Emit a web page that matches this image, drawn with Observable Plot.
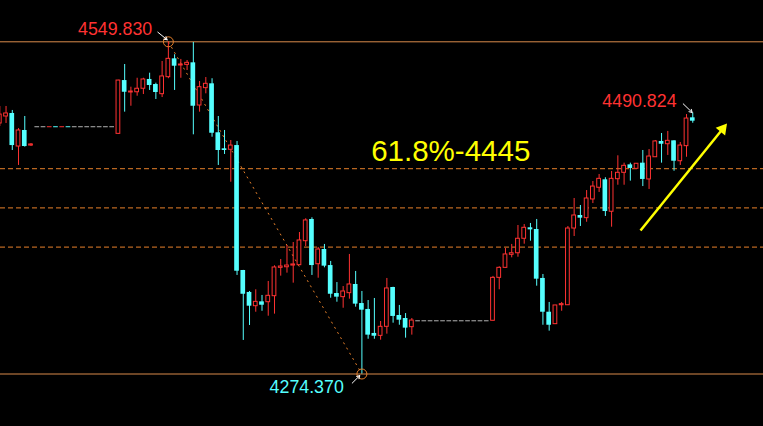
<!DOCTYPE html>
<html><head><meta charset="utf-8">
<script src="https://cdn.jsdelivr.net/npm/d3@7"></script>
<script src="https://cdn.jsdelivr.net/npm/@observablehq/plot@0.6"></script>
<style>html,body{margin:0;padding:0;background:#000;overflow:hidden}</style>
</head><body><div id="chart"></div>
<script>
// [index, open, high, low, close]
const candles = [
[0,4482.1,4496.2,4479.6,4489.5],[1,4487.9,4496.2,4482.1,4490.4],[2,4490.4,4492.9,4459.7,4463.8],
[3,4463.0,4477.9,4447.3,4476.3],[4,4476.3,4487.9,4462.5,4463.0],[5,4463.8,4465.5,4463.0,4464.7],
[19,4473.5,4517.9,4473.3,4517.7],[20,4517.7,4531.0,4491.5,4508.0],[21,4507.8,4512.2,4496.4,4508.6],
[22,4508.0,4519.6,4504.7,4510.9],[23,4510.9,4519.6,4506.1,4518.6],[24,4518.6,4523.8,4509.5,4513.6],
[25,4514.4,4515.5,4502.0,4507.8],[26,4506.4,4533.5,4503.6,4521.1],[27,4520.5,4549.83,4519.2,4535.7],
[28,4535.7,4539.1,4509.5,4529.6],[29,4530.2,4535.2,4519.6,4531.0],[30,4530.7,4534.3,4526.0,4532.4],
[31,4532.4,4549.3,4472.7,4496.4],[32,4497.0,4516.9,4491.5,4512.2],[33,4511.4,4520.2,4506.7,4515.0],
[34,4515.0,4519.2,4470.7,4474.0],[35,4474.4,4487.9,4447.3,4459.7],[36,4461.1,4476.3,4456.4,4459.7],
[37,4460.3,4468.0,4433.4,4463.8],[38,4463.8,4467.2,4356.1,4359.6],[39,4360.2,4360.3,4302.2,4340.5],
[40,4342.0,4342.8,4314.6,4330.6],[41,4330.6,4344.2,4325.6,4334.2],[42,4334.2,4339.5,4326.4,4331.4],
[43,4333.9,4351.1,4322.3,4339.2],[44,4338.9,4364.1,4324.0,4362.7],[45,4362.4,4369.3,4355.5,4363.5],
[46,4362.9,4380.9,4358.0,4364.3],[47,4364.3,4383.4,4349.7,4365.2],[48,4364.6,4391.7,4364.4,4385.1],
[49,4384.5,4403.1,4380.1,4401.7],[50,4402.5,4403.9,4356.1,4364.3],[51,4365.4,4379.3,4353.8,4377.6],
[52,4377.6,4381.8,4362.4,4363.8],[53,4364.3,4367.7,4337.2,4340.5],[54,4341.1,4350.2,4333.9,4338.1],
[55,4338.1,4346.9,4328.9,4342.8],[56,4341.4,4373.5,4336.4,4348.6],[57,4348.6,4359.4,4329.8,4332.3],
[58,4332.8,4342.8,4274.37,4327.3],[59,4327.9,4335.3,4303.2,4306.6],[60,4308.0,4337.0,4303.2,4305.7],
[61,4306.0,4317.9,4302.4,4313.5],[62,4313.5,4353.6,4307.4,4345.3],[63,4346.1,4346.3,4316.5,4322.1],
[64,4322.9,4331.2,4314.8,4319.0],[65,4320.4,4324.5,4304.1,4312.4],[66,4313.2,4320.4,4306.6,4318.7],
[79,4318.5,4355.3,4318.4,4354.1],[80,4354.1,4363.3,4344.2,4362.4],[81,4362.4,4378.4,4362.2,4373.5],
[82,4373.2,4381.8,4370.7,4374.5],[83,4374.5,4397.5,4371.2,4386.5],[84,4386.5,4398.3,4382.0,4395.6],
[85,4395.6,4399.2,4384.5,4393.9],[86,4394.2,4402.5,4347.2,4353.0],[87,4353.6,4356.9,4314.8,4325.6],
[88,4325.6,4333.7,4309.9,4314.8],[89,4315.7,4331.3,4315.5,4331.2],[90,4331.4,4333.7,4326.4,4332.3],
[91,4331.4,4396.7,4331.2,4395.0],[92,4395.0,4419.9,4388.4,4405.8],[93,4405.8,4414.1,4396.7,4403.6],
[94,4403.6,4426.5,4400.2,4419.9],[95,4419.1,4434.0,4415.7,4429.8],[96,4428.8,4439.8,4424.9,4436.2],
[97,4435.4,4437.1,4405.0,4409.1],[98,4408.9,4442.3,4396.1,4436.2],[99,4435.9,4455.3,4430.9,4441.2],
[100,4441.2,4449.2,4430.9,4447.0],[101,4447.8,4449.2,4434.3,4444.8],[102,4444.5,4448.8,4444.4,4448.7],
[103,4449.2,4459.7,4429.8,4435.7],[104,4435.7,4460.5,4427.4,4454.7],[105,4454.1,4468.0,4454.0,4467.2],
[106,4467.2,4473.8,4449.2,4464.9],[107,4464.9,4475.5,4455.6,4467.7],[108,4467.7,4467.8,4442.5,4450.8],
[109,4450.8,4466.3,4447.3,4463.8],[110,4463.3,4489.5,4454.1,4486.2],[111,4486.8,4490.824,4482.3,4484.0]
];
// flat (no-trade) bars
const flatLeftIdx = [6,7,8,9,10,11,12,13,14,15,16,17,18];
const flatLeftPrice = 4479.4;
const flatLeftKinds = ["g","g","r","c","r","c","g","g","g","g","g","g","g"];
const flatRightIdx = [67,68,69,70,71,72,73,74,75,76,77,78];
const flatRightPrice = 4318.5;

const swingHigh = {i: 27, p: 4549.83};
const swingLow = {i: 58, p: 4274.37};
const fibRatios = [0, 0.382, 0.5, 0.618, 1];

const priceLabels = [
  {t: "4549.830", i: 24.41, p: 4560.2, kind: "r"},
  {t: "4274.370", i: 55.10, p: 4263.4, kind: "c"},
  {t: "4490.824", i: 108.4, p: 4500.9, kind: "r"}
];
const fibLabel = [{t: "61.8%-4445", i: 59.49, p: 4459.0}];
const whiteArrows = [
  {i1: 25.31, p1: 4557.8, i2: 26.81, p2: 4551.5},
  {i1: 56.45, p1: 4266.8, i2: 57.67, p2: 4273.1},
  {i1: 109.47, p1: 4498.4, i2: 110.91, p2: 4491.2}
];
const trendArrow = {i1: 102.63, p1: 4393.4, i2: 115.78, p2: 4477.6, angle: 38.9};

const RED = "#ff3232", CYAN = "#55ffff", GRAY = "#b4b4b4", ORANGE = "#e8802a", LINE = "#d98a4a", YELLOW = "#ffff00";
const colorOf = {r: RED, c: CYAN, g: GRAY, y: YELLOW};

const rows = candles.map(([i, o, h, l, c]) => ({i, o, h, l, c, up: c >= o}));
const flats = [
  ...flatLeftIdx.map((i, k) => ({i, p: flatLeftPrice, kind: flatLeftKinds[k]})),
  ...flatRightIdx.map(i => ({i, p: flatRightPrice, kind: "g"}))
];
const levels = fibRatios.map(r => ({r, p: swingLow.p + r * (swingHigh.p - swingLow.p), solid: r === 0 || r === 1}));
const W = 0.375, WH = 0.30;
const FONT = "Liberation Sans, Arial, sans-serif";

const chart = Plot.plot({
  width: 763, height: 426, margin: 0,
  x: {domain: [0.112, 122.33], axis: null},
  y: {domain: [4230.84, 4584.08], axis: null},
  color: {type: "identity"},
  style: {background: "#000", overflow: "visible"},
  marks: [
    Plot.ruleY(levels.filter(d => d.solid), {y: "p", stroke: LINE, strokeWidth: 1}),
    Plot.ruleY(levels.filter(d => !d.solid), {y: "p", stroke: ORANGE, strokeWidth: 1, strokeDasharray: "5,3"}),
    Plot.link([{a: swingHigh, b: swingLow}], {x1: d => d.a.i, y1: d => d.a.p, x2: d => d.b.i, y2: d => d.b.p, stroke: ORANGE, strokeDasharray: "2,4"}),
    Plot.ruleY(flats, {y: "p", x1: d => d.i - W, x2: d => d.i + W, stroke: d => colorOf[d.kind]}),
    Plot.ruleX(rows, {x: "i", y1: "l", y2: "h", stroke: d => d.up ? RED : CYAN}),
    Plot.rect(rows.filter(d => !d.up), {x1: d => d.i - W, x2: d => d.i + W, y1: "o", y2: "c", fill: CYAN}),
    Plot.rect(rows.filter(d => d.up), {x1: d => d.i - WH, x2: d => d.i + WH, y1: "o", y2: "c", fill: "#000", stroke: RED, strokeWidth: 1}),
    Plot.dot([swingHigh, swingLow], {x: "i", y: "p", r: 5, stroke: ORANGE, fill: "none", strokeWidth: 1}),
    Plot.arrow(whiteArrows, {x1: "i1", y1: "p1", x2: "i2", y2: "p2", stroke: "#fff", strokeWidth: 1, headLength: 5}),
    Plot.link([trendArrow], {x1: "i1", y1: "p1", x2: "i2", y2: "p2", stroke: YELLOW, strokeWidth: 2.5}),
    Plot.dot([trendArrow], {x: "i2", y: "p2", symbol: "triangle", r: 4.5, fill: YELLOW, stroke: "none", rotate: d => d.angle}),
    Plot.text(priceLabels, {x: "i", y: "p", text: "t", textAnchor: "end", lineAnchor: "middle",
      fill: d => colorOf[d.kind], fontSize: 17.8, fontFamily: FONT}),
    Plot.text(fibLabel, {x: "i", y: "p", text: "t", textAnchor: "start", lineAnchor: "middle",
      fill: YELLOW, fontSize: 29.5, fontFamily: FONT})
  ]
});
document.getElementById("chart").appendChild(chart);
</script>
</body></html>
